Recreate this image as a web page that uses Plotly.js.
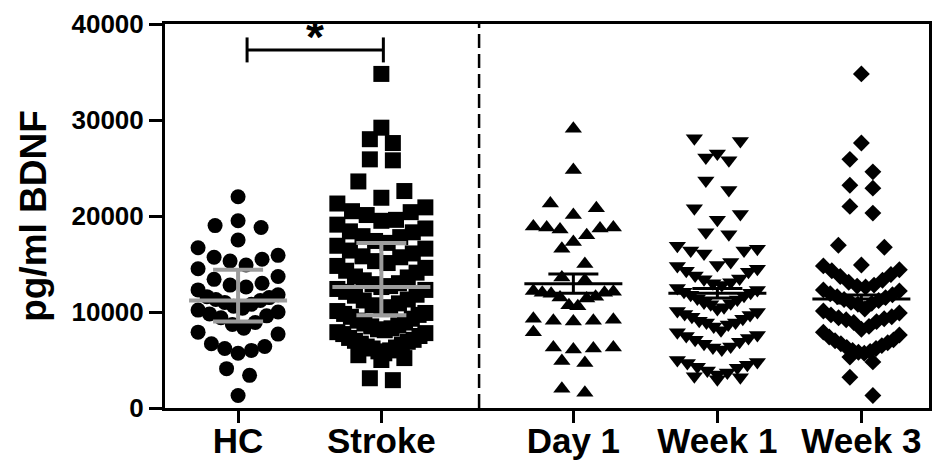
<!DOCTYPE html>
<html><head><meta charset="utf-8">
<script src="https://cdn.plot.ly/plotly-3.0.1.min.js"></script>
<style>html,body{margin:0;padding:0;background:#fff}#chart{width:933px;height:466px}</style>
</head><body><div id="chart"></div>
<script>
// ---------------- data ----------------
const categories = ['HC', 'Stroke', 'Day 1', 'Week 1', 'Week 3'];
const hcValues = [22000, 19500, 19000, 18800, 17500, 16700, 15900, 15700, 15500, 15300, 14900, 14500,
  13700, 13400, 13000, 12800, 12600, 12300, 11800, 11600, 11500, 11300, 11200, 11000, 10800, 10600,
  10400, 10200, 10000, 9800, 9600, 9400, 8900, 8700, 8300, 7900, 7700, 6700, 6400, 6200, 6000, 5700,
  4100, 3400, 1300];
const strokeValues = [34800, 29200, 28000, 27600, 25900, 25800, 23600, 22600,
  21900, 21300, 20900, 20500, 20400, 20100, 19600, 19500, 19100, 18700,
  18400, 18300, 17900, 17800, 17400, 17200, 16900, 16600, 16400, 16100, 15800, 15700,
  15300, 15100, 14800, 14600, 14300, 14100, 13700, 13600, 13300, 13000, 12900, 12700,
  12600, 12400, 12300, 12100, 11800, 11700, 11300, 11200, 10900, 10700, 10500, 10300,
  10100, 9900, 9800, 9700, 9500, 9300, 9100, 8900, 8800, 8600, 8500, 8300, 8200, 8100,
  7900, 7800, 7700, 7500, 7300, 7100, 7000, 6900, 6700, 6600, 6400, 6300, 6200, 6000,
  5900, 5700, 5500, 5200, 5000, 3100, 2900];
const day1Values = [29100, 24800, 20800, 21300, 20100, 18900, 18800, 18800, 18700, 18600, 17300, 18000,
  16600, 15000, 13300, 13600, 12200, 12100, 12000, 12000, 11900, 11600, 11500, 11400, 10700, 10600,
  9300, 9100, 9100, 9000, 9200, 7900, 6300, 6200, 6100, 6300, 4900, 4700, 1600, 2000];
const week1Values = [28100, 27800, 26500, 26100, 25800, 23700, 22700, 20800, 20200, 19600, 18300, 18100,
  16900, 16600, 16400, 16400, 16100, 15200, 14900, 14800, 14500, 14300, 14200,
  13800, 13500, 13400, 13100, 13000, 12800, 12500, 12300, 12100, 12000, 11800, 11700,
  11400, 11300, 11000, 10900, 10800, 10500, 10300, 10100, 10000, 9800, 9700, 9500,
  9300, 9100, 8900, 8900, 8700, 8500, 8100, 7900, 7600, 7500, 7300, 7100,
  6900, 6700, 6400, 6300, 6100, 5000, 4800, 4700, 4500, 4300, 4200,
  3900, 3700, 3500, 3300, 3200, 3000];
const week3Values = [34800, 27600, 25900, 24600, 23200, 22900, 21000, 20300, 16950, 16750,
  14900, 14800, 14400, 14300, 13900, 13700, 13300, 13100, 12800, 12700, 12600,
  12300, 12200, 11900, 11800, 11600, 11500, 11300, 11200, 11000, 10900, 10800,
  10300, 10100, 9900, 9700, 9500, 9400, 9300, 9200, 9000, 8900,
  8500, 8200, 7900, 7600, 7400,
  7100, 7000, 6800, 6700, 6500, 6300, 6200, 6000, 5900, 5800, 5700,
  5300, 4800, 3200, 1300];
// summary statistics as drawn (median + IQR in grey, mean +/- SEM in black)
const medianValues = [11200, 12600];
const q1Values = [9000, 9650];
const q3Values = [14400, 17200];
const meanValues = [12950, 11950, 11350];
const semValues = [1000, 500, 420];
const yTickValues = [0, 10000, 20000, 30000, 40000];
const yTitle = 'pg/ml BDNF';
const significanceLabel = '*';

// ---------------- layout constants ----------------
const W = 933, H = 466;
const margin = {l: 165, r: 4, t: 24, b: 58, pad: 0};
const catPos = [0, 1, 2.34, 3.345, 4.35];
const xRange = [-0.51, 4.822], yRange = [0, 40000];
const pxPerX = (W - margin.l - margin.r) / (xRange[1] - xRange[0]);
const FONT = 'Liberation Sans, Arial, Helvetica, sans-serif';
const GREY = '#9c9c9c';

// GraphPad-like scatter-dot arrangement: values grouped into horizontal rows,
// lowest value of a row in the middle, others alternating outward.
function swarm(values, center, maxHalf) {
  const binUnits = 2300, binOrigin = 1100, maxSpacing = 23;
  const bins = {};
  values.forEach(v => {
    const k = Math.floor((v - binOrigin) / binUnits);
    (bins[k] = bins[k] || []).push(v);
  });
  const xs = [], ys = [];
  Object.keys(bins).forEach(k => {
    const b = bins[k].slice().sort((a, c) => a - c);
    const n = b.length;
    const s = n > 1 ? Math.min(maxSpacing, 2 * maxHalf / (n - 1)) : 0;
    const slots = [];
    for (let i = 0; i < n; i++) slots.push((i - (n - 1) / 2) * s);
    slots.sort((a, c) => (Math.abs(a) - Math.abs(c)) || (c - a));
    b.forEach((v, i) => { xs.push(center + slots[i] / pxPerX); ys.push(v); });
  });
  return {x: xs, y: ys};
}

const groups = [
  {vals: hcValues, sym: 'circle', size: 15, half: 40},
  {vals: strokeValues, sym: 'square', size: 16, half: 44},
  {vals: day1Values, sym: 'triangle-up', size: 15, half: 40},
  {vals: week1Values, sym: 'triangle-down', size: 15, half: 40},
  {vals: week3Values, sym: 'diamond', size: 13, half: 38}
];

const traces = groups.map((g, i) => {
  const p = swarm(g.vals, catPos[i], g.half);
  return {type: 'scatter', mode: 'markers', x: p.x, y: p.y, name: categories[i],
    marker: {symbol: g.sym, size: g.size, color: '#000', line: {width: 0}}, hoverinfo: 'skip'};
});

const wideHalf = 49 / pxPerX, barHalf = 25 / pxPerX;
// grey median & IQR
const gx = [], gy = [];
medianValues.forEach((m, i) => {
  const c = catPos[i];
  gx.push(c - wideHalf, c + wideHalf, null, c - barHalf, c + barHalf, null, c - barHalf, c + barHalf, null, c, c, null);
  gy.push(m, m, null, q1Values[i], q1Values[i], null, q3Values[i], q3Values[i], null, q1Values[i], q3Values[i], null);
});
traces.push({type: 'scatter', mode: 'lines', x: gx, y: gy, line: {color: GREY, width: 4}, hoverinfo: 'skip'});
// black mean & SEM
const bx = [], by = [];
meanValues.forEach((m, i) => {
  const c = catPos[i + 2], lo = m - semValues[i], hi = m + semValues[i];
  bx.push(c - wideHalf, c + wideHalf, null, c - barHalf, c + barHalf, null, c - barHalf, c + barHalf, null, c, c, null);
  by.push(m, m, null, lo, lo, null, hi, hi, null, lo, hi, null);
});
traces.push({type: 'scatter', mode: 'lines', x: bx, y: by, line: {color: '#000', width: 3}, hoverinfo: 'skip'});

const brX0 = catPos[0] + 9 / pxPerX, brX1 = catPos[1] + 2 / pxPerX;
const layout = {
  width: W, height: H, margin: margin, showlegend: false, hovermode: false,
  paper_bgcolor: '#fff', plot_bgcolor: '#fff',
  font: {family: FONT, color: '#000'},
  xaxis: {range: xRange, tickmode: 'array', tickvals: catPos, ticktext: categories,
    ticks: 'outside', ticklen: 12, tickwidth: 3, tickcolor: '#000', ticklabelstandoff: -12,
    showline: true, linewidth: 3, linecolor: '#000', mirror: true,
    showgrid: false, zeroline: false,
    tickfont: {family: FONT, size: 35, weight: 'bold', color: '#000'}},
  yaxis: {range: yRange, tickmode: 'array', tickvals: yTickValues, ticktext: yTickValues.map(String),
    ticks: 'outside', ticklen: 13, tickwidth: 3, tickcolor: '#000',
    showline: true, linewidth: 3, linecolor: '#000', mirror: true,
    showgrid: false, zeroline: false,
    tickfont: {family: FONT, size: 26, weight: 'bold', color: '#000'},
    title: {text: yTitle, font: {family: FONT, size: 37, weight: 'bold', color: '#000'}, standoff: 14}},
  shapes: [
    {type: 'line', xref: 'x', yref: 'paper', x0: 1.682, x1: 1.682, y0: 0, y1: 1,
      line: {color: '#000', width: 2.5, dash: '14px,6px'}},
    {type: 'line', xref: 'x', yref: 'y', x0: brX0, x1: brX1, y0: 37300, y1: 37300, line: {color: '#000', width: 3}},
    {type: 'line', xref: 'x', yref: 'y', x0: brX0, x1: brX0, y0: 36000, y1: 38600, line: {color: '#000', width: 3}},
    {type: 'line', xref: 'x', yref: 'y', x0: brX1, x1: brX1, y0: 36000, y1: 38600, line: {color: '#000', width: 3}}
  ],
  annotations: [
    {xref: 'x', yref: 'y', x: (brX0 + brX1) / 2, y: 38600, text: significanceLabel, showarrow: false,
      yanchor: 'middle', xanchor: 'center', font: {family: FONT, size: 46, weight: 'bold', color: '#000'}}
  ]
};

Plotly.newPlot('chart', traces, layout, {staticPlot: true, displayModeBar: false});
</script>
</body></html>
